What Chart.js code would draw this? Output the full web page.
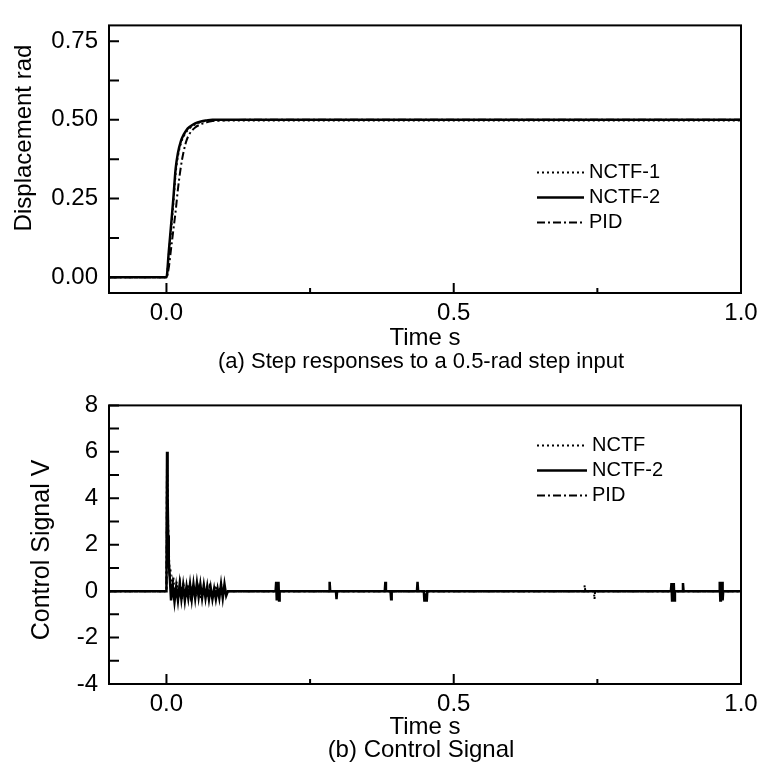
<!DOCTYPE html>
<html>
<head>
<meta charset="utf-8">
<script src="https://cdn.jsdelivr.net/npm/chart.js@4/dist/chart.umd.min.js"></script>
<style>
  html, body { margin: 0; padding: 0; background: #fff; }
  canvas { display: block; }
</style>
</head>
<body>
<canvas id="stepChart" width="759" height="380"></canvas>
<canvas id="ctrlChart" width="759" height="398"></canvas>
<script>
// (a) step responses
const stepTime = [-0.1, 0, 0.004, 0.008, 0.012, 0.016, 0.02, 0.025, 0.03, 0.035, 0.04, 0.05, 0.06, 0.07, 0.08, 0.09, 0.1, 0.15, 0.2, 0.3, 0.4, 0.5, 0.6, 0.7, 0.8, 0.9, 1.0];
const nctf1Step = [0, 0, 0.07, 0.15, 0.235, 0.33, 0.385, 0.425, 0.448, 0.463, 0.473, 0.486, 0.493, 0.497, 0.498, 0.498, 0.498, 0.498, 0.498, 0.498, 0.498, 0.498, 0.498, 0.498, 0.498, 0.498, 0.498];
const nctf2Step = [0, 0, 0.08, 0.165, 0.25, 0.345, 0.395, 0.432, 0.453, 0.468, 0.477, 0.489, 0.495, 0.498, 0.5, 0.5, 0.5, 0.5, 0.5, 0.5, 0.5, 0.5, 0.5, 0.5, 0.5, 0.5, 0.5];
const pidStep = [0, 0, 0.03, 0.09, 0.15, 0.21, 0.28, 0.35, 0.40, 0.435, 0.455, 0.476, 0.486, 0.492, 0.496, 0.498, 0.499, 0.5, 0.5, 0.5, 0.5, 0.5, 0.5, 0.5, 0.5, 0.5, 0.5];

// (b) control signal
const ctrlTime1 = [-0.1, 0, 0.001, 0.003, 0.005, 0.007, 0.009, 0.012, 0.015, 0.018, 0.021, 0.024, 0.027, 0.03, 0.034, 0.038, 0.042, 0.046, 0.05, 0.055, 0.06, 0.065, 0.07, 0.075, 0.08, 0.085, 0.09, 0.095, 0.1, 0.11, 0.727, 0.728, 0.729, 0.744, 0.745, 0.746, 1.0];
const ctrl1 = [0, 0, 5.9, 2.8, 1.1, 0.9, -0.3, 0.6, -0.4, 0.4, -0.3, 0.3, -0.35, 0.25, -0.3, 0.3, -0.25, 0.3, -0.3, 0.2, -0.3, 0.25, -0.3, 0.2, -0.25, 0.25, -0.2, 0.3, -0.1, 0, 0, 0.25, 0, 0, -0.35, 0, 0];

const ctrlTime2 = [-0.1, 0, 0.001, 0.002, 0.003, 0.004, 0.006,
  0.008, 0.011, 0.014, 0.017, 0.02, 0.023, 0.026, 0.029, 0.032, 0.035, 0.038, 0.041, 0.044, 0.047, 0.05, 0.053, 0.056, 0.059, 0.062, 0.065, 0.068, 0.071, 0.074, 0.077, 0.08, 0.083, 0.086, 0.089, 0.092, 0.095, 0.098, 0.101, 0.104, 0.107,
  0.19, 0.191, 0.192, 0.193, 0.194, 0.195, 0.196, 0.197,
  0.283, 0.284, 0.285, 0.295, 0.296, 0.297,
  0.38, 0.381, 0.382, 0.39, 0.391, 0.392,
  0.436, 0.437, 0.438, 0.448, 0.449, 0.45, 0.451, 0.452, 0.453, 0.454,
  0.878, 0.879, 0.88, 0.881, 0.882, 0.883, 0.884, 0.885,
  0.898, 0.899, 0.9,
  0.962, 0.963, 0.964, 0.965, 0.966, 0.967, 0.968, 0.969, 1.0];
const ctrl2 = [0, 0, 6.0, 4.2, 2.4, 1.3, 0.5,
  -0.4, 0.25, -0.45, 0.2, -0.4, 0.3, -0.35, 0.25, -0.4, 0.2, -0.3, 0.3, -0.35, 0.3, -0.3, 0.35, -0.25, 0.3, -0.3, 0.25, -0.3, 0.2, -0.35, 0.15, -0.35, 0.1, -0.35, 0.1, -0.3, 0.3, -0.3, 0.3, -0.2, 0,
  0, 0.4, -0.4, 0.4, -0.4, 0.4, -0.4, 0,
  0, 0.4, 0, 0, -0.35, 0,
  0, 0.4, 0, 0, -0.35, 0,
  0, 0.4, 0, 0, -0.45, -0.1, -0.45, -0.1, -0.45, 0,
  0, 0.35, -0.4, 0.35, -0.4, 0.35, -0.4, 0,
  0, 0.35, 0,
  0, 0.4, -0.4, 0.4, -0.4, 0.4, -0.4, 0, 0];

const ctrlTime3 = [-0.1, 0, 0.001, 0.003, 0.005, 0.008, 0.012, 0.016, 0.02, 0.025, 0.03, 0.035, 0.04, 0.045, 0.05, 0.06, 0.07, 0.08, 0.09, 0.1, 0.12, 1.0];
const ctrl3 = [0, 0, 5.8, 2.2, 0.8, 0.2, -0.3, 0.15, -0.3, 0.2, -0.2, 0.15, -0.2, 0.1, -0.15, 0.1, -0.1, 0.05, -0.05, 0, 0, 0];

// ticks
const timeTicks = [0, 0.5, 1.0];
const timeMinor = [0.25, 0.75];
const stepTicks = [0, 0.25, 0.5, 0.75];
const stepMinor = [0.125, 0.375, 0.625];
const ctrlTicks = [-4, -2, 0, 2, 4, 6, 8];
const ctrlMinor = [-3, -1, 1, 3, 5, 7];

const DOT = [2, 3];
const DASHDOT = [8, 3, 2, 3];
const FONT = "'Liberation Sans', Arial, sans-serif";

Chart.defaults.font.family = FONT;
Chart.defaults.color = "#000";

const pts = (t, v) => t.map((x, i) => ({ x: x, y: v[i] }));

// box, inward ticks, y title, caption and the in-plot legend
const framePlugin = {
  id: "frame",
  afterDraw(chart, args, opts) {
    const { ctx, chartArea: a, scales } = chart;
    ctx.save();
    ctx.strokeStyle = "#000";
    ctx.fillStyle = "#000";
    ctx.setLineDash([]);
    ctx.lineWidth = 2;
    ctx.strokeRect(a.left, a.top, a.right - a.left, a.bottom - a.top);

    ctx.beginPath();
    opts.xMajor.forEach(v => {
      const p = scales.x.getPixelForValue(v);
      ctx.moveTo(p, a.bottom); ctx.lineTo(p, a.bottom - 10);
    });
    opts.xMinor.forEach(v => {
      const p = scales.x.getPixelForValue(v);
      ctx.moveTo(p, a.bottom); ctx.lineTo(p, a.bottom - 5);
    });
    opts.yMajor.concat(opts.yMinor).forEach(v => {
      const p = scales.y.getPixelForValue(v);
      ctx.moveTo(a.left, p); ctx.lineTo(a.left + 10, p);
    });
    ctx.stroke();

    // y title
    const yt = opts.yTitle;
    ctx.save();
    ctx.translate(yt.x, yt.y);
    ctx.rotate(-Math.PI / 2);
    ctx.font = yt.size + "px " + FONT;
    ctx.textAlign = "center";
    ctx.textBaseline = "middle";
    ctx.fillText(yt.text, 0, 0);
    ctx.restore();

    // caption
    const cap = opts.caption;
    ctx.font = cap.size + "px " + FONT;
    ctx.textAlign = "center";
    ctx.textBaseline = "middle";
    ctx.fillText(cap.text, (a.left + a.right) / 2 - 4, cap.y);

    // legend
    const lg = opts.legend;
    ctx.font = "20px " + FONT;
    ctx.textAlign = "left";
    chart.data.datasets.forEach((ds, i) => {
      const y = a.top + lg.top + i * lg.gap;
      ctx.beginPath();
      ctx.lineWidth = ds.borderWidth;
      ctx.setLineDash(ds.borderDash || []);
      ctx.moveTo(lg.x, y); ctx.lineTo(lg.x + lg.len, y);
      ctx.stroke();
      ctx.setLineDash([]);
      ctx.fillText(ds.label, lg.x + lg.len + 5, y);
    });
    ctx.restore();
  }
};

function makeChart(id, datasets, o) {
  return new Chart(document.getElementById(id), {
    type: "line",
    data: { datasets: datasets },
    plugins: [framePlugin],
    options: {
      responsive: false,
      animation: false,
      layout: { padding: { top: o.padTop, right: 18, left: 0, bottom: o.padBottom } },
      elements: { point: { radius: 0 } },
      scales: {
        x: {
          type: "linear", min: -0.1, max: 1.0,
          grid: { display: false, drawTicks: false },
          border: { display: false },
          afterBuildTicks: s => { s.ticks = timeTicks.map(v => ({ value: v })); },
          afterFit: s => { s.height = o.xHeight; s.paddingLeft = 0; s.paddingRight = 0; },
          ticks: { padding: 6, font: { size: 24 }, maxRotation: 0, autoSkip: false, callback: v => Number(v).toFixed(1) },
          title: { display: true, text: "Time s", font: { size: 24, lineHeight: 1 }, padding: 0 }
        },
        y: {
          type: "linear", min: o.yMin, max: o.yMax,
          grid: { display: false, drawTicks: false },
          border: { display: false },
          afterBuildTicks: s => { s.ticks = o.yTicks.map(v => ({ value: v })); },
          afterFit: s => { s.width = 109; },
          ticks: { padding: 11, font: { size: 24 }, autoSkip: false, callback: o.yFmt }
        }
      },
      plugins: {
        legend: { display: false },
        tooltip: { enabled: false },
        frame: {
          xMajor: timeTicks, xMinor: timeMinor,
          yMajor: o.yTicks, yMinor: o.yMinor,
          yTitle: o.yTitle, caption: o.caption, legend: o.legend
        }
      }
    }
  });
}

makeChart("stepChart", [
  { label: "NCTF-1", data: pts(stepTime, nctf1Step), borderColor: "#000", borderWidth: 2, borderDash: DOT, cubicInterpolationMode: "monotone", fill: false },
  { label: "NCTF-2", data: pts(stepTime, nctf2Step), borderColor: "#000", borderWidth: 2.5, cubicInterpolationMode: "monotone", fill: false },
  { label: "PID", data: pts(stepTime, pidStep), borderColor: "#000", borderWidth: 2, borderDash: DASHDOT, cubicInterpolationMode: "monotone", fill: false }
], {
  padTop: 11, padBottom: 30, xHeight: 57,
  yMin: -0.05, yMax: 0.8, yTicks: stepTicks, yMinor: stepMinor,
  yFmt: v => Number(v).toFixed(2),
  yTitle: { text: "Displacement rad", x: 24, y: 138, size: 24 },
  caption: { text: "(a) Step responses to a 0.5-rad step input", y: 362, size: 22 },
  legend: { x: 537, top: 147, gap: 25, len: 47 }
});

makeChart("ctrlChart", [
  { label: "NCTF", data: pts(ctrlTime1, ctrl1), borderColor: "#000", borderWidth: 2, borderDash: DOT, fill: false },
  { label: "NCTF-2", data: pts(ctrlTime2, ctrl2), borderColor: "#000", borderWidth: 2.5, fill: false },
  { label: "PID", data: pts(ctrlTime3, ctrl3), borderColor: "#000", borderWidth: 2, borderDash: DASHDOT, fill: false }
], {
  padTop: 23, padBottom: 39, xHeight: 55,
  yMin: -4, yMax: 8, yTicks: ctrlTicks, yMinor: ctrlMinor,
  yFmt: v => String(v),
  yTitle: { text: "Control Signal V", x: 42, y: 170, size: 25 },
  caption: { text: "(b) Control Signal", y: 370, size: 24 },
  legend: { x: 537, top: 40, gap: 25, len: 50 }
});
</script>
</body>
</html>
